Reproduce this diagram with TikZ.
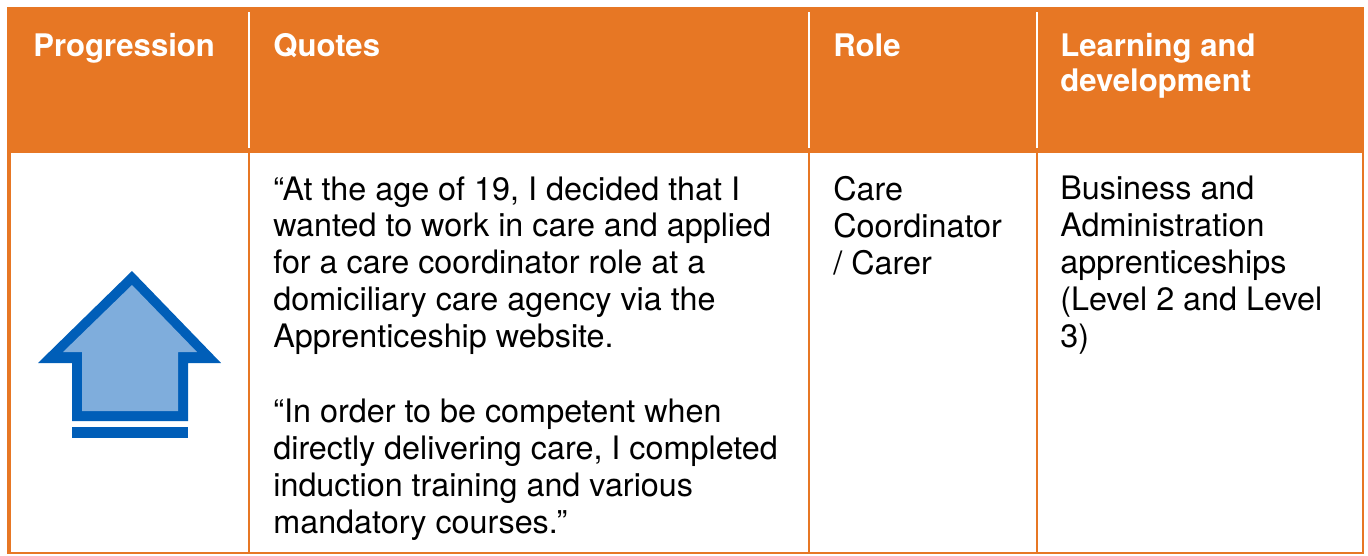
\documentclass[tikz,border=0pt]{standalone}
\usepackage{fontspec}
\setmainfont{TeX Gyre Heros}
\definecolor{tableorange}{HTML}{E77724}
\definecolor{arrowblue}{HTML}{005EB8}
\definecolor{arrowfill}{HTML}{7FADDC}
\tikzset{
  headtext/.style={anchor=north west, inner sep=0pt, align=left, text=white,
    font=\fontsize{17.7}{20}\selectfont\bfseries},
  celltext/.style={anchor=north west, inner sep=0pt, align=left,
    font=\fontsize{18.4}{21}\selectfont},
  gridline/.style={tableorange, line width=1.2pt},
  headsep/.style={white, line width=1.2pt}
}

\begin{document}
\begin{tikzpicture}[x=0.02cm,y=-0.02cm]
  \useasboundingbox (0,0) rectangle (1368,555);

  % header row
  \fill[tableorange] (7,7) rectangle (1364,153);
  \draw[headsep] (249,12) -- (249,148);
  \draw[headsep] (809,12) -- (809,148);
  \draw[headsep] (1037,12) -- (1037,148);

  \node[headtext] (progression) at (33,33) {Progression};
  \node[headtext] (quotes) at (273,33) {Quotes};
  \node[headtext] (role) at (833,33) {Role};
  \node[headtext] (learning) at (1060,33) {Learning and\\development};

  % body row
  \draw[tableorange, line width=2.2pt] (9,153) -- (9,553);
  \draw[gridline] (249,153) -- (249,553);
  \draw[gridline] (809,153) -- (809,553);
  \draw[gridline] (1037,153) -- (1037,553);
  \draw[gridline] (1363,153) -- (1363,553);
  \draw[gridline] (7,553) -- (1364,553);

  % progression arrow
  \fill[arrowblue] (132,271) -- (221,363) -- (188,363) -- (188,421)
    -- (72,421) -- (72,363) -- (38,363) -- cycle;
  \fill[arrowfill] (132,285) -- (197,352) -- (178,352) -- (178,411)
    -- (82,411) -- (82,352) -- (63,352) -- cycle;
  \fill[arrowblue] (72,427) rectangle (188,438);

  \node[celltext] (quoteone) at (273,176) {“At the age of 19, I decided that I\\
    wanted to work in care and applied\\
    for a care coordinator role at a\\
    domiciliary care agency via the\\
    Apprenticeship website.};
  \node[celltext] (quotetwo) at (273,399) {“In order to be competent when\\
    directly delivering care, I completed\\
    induction training and various\\
    mandatory courses.”};
  \node[celltext] (carer) at (833,176) {Care\\Coordinator\\/ Carer};
  \node[celltext] (business) at (1060,176) {Business and\\Administration\\
    apprenticeships\\(Level 2 and Level\\3)};
\end{tikzpicture}
\end{document}
